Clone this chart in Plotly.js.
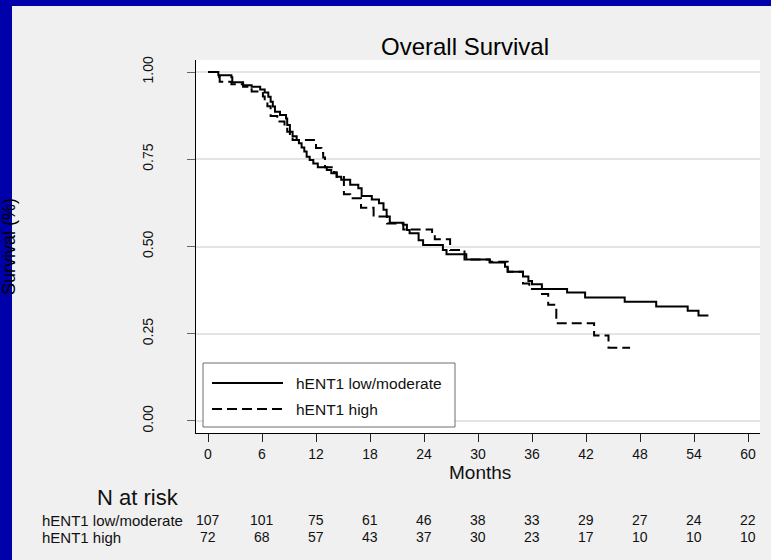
<!DOCTYPE html>
<html>
<head>
<meta charset="utf-8">
<script src="https://cdn.plot.ly/plotly-3.0.1.min.js"></script>
<style>
  html, body { margin: 0; padding: 0; background: #f0f0f0; }
  #chart { width: 771px; height: 560px; }
</style>
</head>
<body>
<div id="chart"></div>
<script>
// Kaplan-Meier estimates: month at which each step starts, and survival from then on
const lowModMonths = [0, 1.15, 2.6, 2.7, 3.9, 4.85, 5.8, 6.3, 6.7, 6.96, 7.2, 7.44, 8.0, 8.67, 8.8, 9.1, 9.4, 9.85, 10.1, 10.4, 10.7, 10.96, 11.3, 11.7, 12.2, 13.2, 13.7, 14.3, 14.8, 15.8, 16.7, 17.07, 18.2, 19.0, 19.5, 19.85, 20.2, 21.7, 22.1, 22.4, 23.4, 23.9, 26.1, 26.5, 28.7, 31.3, 33.0, 33.3, 35.0, 35.6, 36.0, 37.1, 39.9, 41.9, 46.3, 49.8, 53.3, 54.5, 55.6];
const lowModSurv   = [1.0, 0.991, 0.985, 0.971, 0.962, 0.958, 0.950, 0.941, 0.929, 0.915, 0.901, 0.886, 0.877, 0.867, 0.848, 0.829, 0.816, 0.805, 0.796, 0.784, 0.772, 0.757, 0.748, 0.738, 0.727, 0.719, 0.710, 0.700, 0.691, 0.677, 0.667, 0.645, 0.635, 0.624, 0.605, 0.586, 0.568, 0.562, 0.547, 0.538, 0.518, 0.504, 0.490, 0.478, 0.463, 0.454, 0.442, 0.428, 0.414, 0.401, 0.392, 0.378, 0.368, 0.354, 0.342, 0.328, 0.316, 0.302, 0.302];

const highMonths = [0, 1.04, 1.3, 2.6, 3.9, 4.85, 6.1, 6.3, 6.6, 6.96, 7.7, 8.5, 8.8, 9.1, 9.4, 12.0, 12.6, 12.8, 13.0, 14.0, 14.3, 15.1, 15.8, 17.0, 18.4, 19.9, 21.7, 24.9, 25.2, 26.9, 28.5, 31.3, 33.3, 35.0, 35.7, 36.9, 37.8, 38.7, 42.9, 44.5, 46.9];
const highSurv   = [1.0, 0.986, 0.972, 0.965, 0.958, 0.944, 0.930, 0.916, 0.902, 0.874, 0.858, 0.843, 0.829, 0.815, 0.805, 0.782, 0.768, 0.755, 0.727, 0.713, 0.699, 0.650, 0.638, 0.611, 0.586, 0.566, 0.549, 0.533, 0.521, 0.490, 0.463, 0.456, 0.428, 0.394, 0.378, 0.364, 0.333, 0.280, 0.245, 0.210, 0.210];

// Number at risk table
const riskMonths = [0, 6, 12, 18, 24, 30, 36, 42, 48, 54, 60];
const riskLowMod = [107, 101, 75, 61, 46, 38, 33, 29, 27, 24, 22];
const riskHigh   = [72, 68, 57, 43, 37, 30, 23, 17, 10, 10, 10];

const groupNames = ['hENT1 low/moderate', 'hENT1 high'];
const yTickVals = [0, 0.25, 0.5, 0.75, 1.0];
const yTickText = ['0.00', '0.25', '0.50', '0.75', '1.00'];

// Page geometry (pixels) of the plotting area
const W = 771, H = 560;
const M = { l: 196, r: 11, t: 60, b: 127 };
const PW = W - M.l - M.r, PH = H - M.t - M.b;
const px = x => (x - M.l) / PW;          // page x -> paper x
const py = y => (H - M.b - y) / PH;      // page y -> paper y

const FONT = 'Liberation Sans, Arial, Helvetica, sans-serif';
const INK = '#111111';
const BLUE = '#0000aa';

const traces = [
  {
    x: lowModMonths, y: lowModSurv, name: groupNames[0],
    type: 'scatter', mode: 'lines', line: { shape: 'hv', color: '#000', width: 2 },
    hoverinfo: 'x+y'
  },
  {
    x: highMonths, y: highSurv, name: groupNames[1],
    type: 'scatter', mode: 'lines', line: { shape: 'hv', color: '#000', width: 2, dash: '10px,5px' },
    hoverinfo: 'x+y'
  }
];

const annotations = [];
// y-axis title, partly sitting on the blue frame
annotations.push({
  text: 'Survival (%)', xref: 'paper', yref: 'paper',
  x: px(21), y: py(247), xanchor: 'right', yanchor: 'middle',
  textangle: -90, showarrow: false,
  font: { family: FONT, size: 18, color: '#000' }
});
// x-axis title
annotations.push({
  text: 'Months', xref: 'paper', yref: 'paper',
  x: px(480), y: py(472), xanchor: 'center', yanchor: 'middle',
  showarrow: false, font: { family: FONT, size: 19, color: INK }
});
// risk table header and row labels
annotations.push({
  text: 'N at risk', xref: 'paper', yref: 'paper',
  x: px(138), y: py(497), xanchor: 'center', yanchor: 'middle',
  showarrow: false, font: { family: FONT, size: 22, color: INK }
});
const rowY = [520, 537];
groupNames.forEach((g, i) => {
  annotations.push({
    text: g, xref: 'paper', yref: 'paper',
    x: px(40), y: py(rowY[i]), xanchor: 'left', yanchor: 'middle',
    showarrow: false, font: { family: FONT, size: 15, color: INK }
  });
});
[riskLowMod, riskHigh].forEach((row, i) => {
  row.forEach((n, j) => {
    annotations.push({
      text: String(n), xref: 'x', yref: 'paper',
      x: riskMonths[j], y: py(rowY[i]), xanchor: 'center', yanchor: 'middle',
      showarrow: false, font: { family: FONT, size: 14, color: INK }
    });
  });
});
// legend entries
const legY = [383, 409];
groupNames.forEach((g, i) => {
  annotations.push({
    text: g, xref: 'paper', yref: 'paper',
    x: px(294), y: py(legY[i]), xanchor: 'left', yanchor: 'middle',
    showarrow: false, font: { family: FONT, size: 15.5, color: INK }
  });
});

const shapes = [
  // blue slide frame
  { type: 'rect', xref: 'paper', yref: 'paper', x0: px(0), x1: px(W), y0: py(6), y1: py(0),
    fillcolor: BLUE, line: { width: 0 }, layer: 'below' },
  { type: 'rect', xref: 'paper', yref: 'paper', x0: px(0), x1: px(12), y0: py(H), y1: py(0),
    fillcolor: BLUE, line: { width: 0 }, layer: 'below' },
  // legend box and line samples
  { type: 'rect', xref: 'paper', yref: 'paper', x0: px(203), x1: px(455), y0: py(427), y1: py(363),
    fillcolor: '#ffffff', line: { color: '#6e6e6e', width: 1 }, layer: 'above' },
  { type: 'line', xref: 'paper', yref: 'paper', x0: px(212), x1: px(283), y0: py(legY[0]), y1: py(legY[0]),
    line: { color: '#000', width: 2 }, layer: 'above' },
  { type: 'line', xref: 'paper', yref: 'paper', x0: px(212), x1: px(283), y0: py(legY[1]), y1: py(legY[1]),
    line: { color: '#000', width: 2, dash: '10px,5px' }, layer: 'above' }
];

const layout = {
  width: W, height: H,
  margin: M,
  paper_bgcolor: '#f0f0f0',
  plot_bgcolor: '#ffffff',
  showlegend: false,
  font: { family: FONT, color: INK },
  title: {
    text: 'Overall Survival',
    x: px(465), xanchor: 'center', xref: 'paper',
    y: 1 - 47 / H, yanchor: 'middle', yref: 'container',
    font: { family: FONT, size: 24, color: '#000' }
  },
  xaxis: {
    range: [-1.333, 61.333],
    tickvals: riskMonths,
    ticks: 'outside', ticklen: 8, tickcolor: '#222', tickwidth: 1,
    showline: true, linecolor: '#000', linewidth: 1,
    showgrid: false, zeroline: false,
    tickfont: { family: FONT, size: 14, color: INK },
    fixedrange: true
  },
  yaxis: {
    range: [-0.0344, 1.0344],
    tickvals: yTickVals, ticktext: yTickText,
    tickangle: -90,
    ticks: 'outside', ticklen: 8, tickcolor: '#666', tickwidth: 1,
    ticklabelstandoff: 28,
    showline: true, linecolor: '#000', linewidth: 1,
    showgrid: true, gridcolor: '#e4e4e4', gridwidth: 2,
    zeroline: false,
    tickfont: { family: FONT, size: 14, color: INK },
    fixedrange: true
  },
  annotations: annotations,
  shapes: shapes
};

Plotly.newPlot('chart', traces, layout, { displayModeBar: false, staticPlot: true });
</script>
</body>
</html>
